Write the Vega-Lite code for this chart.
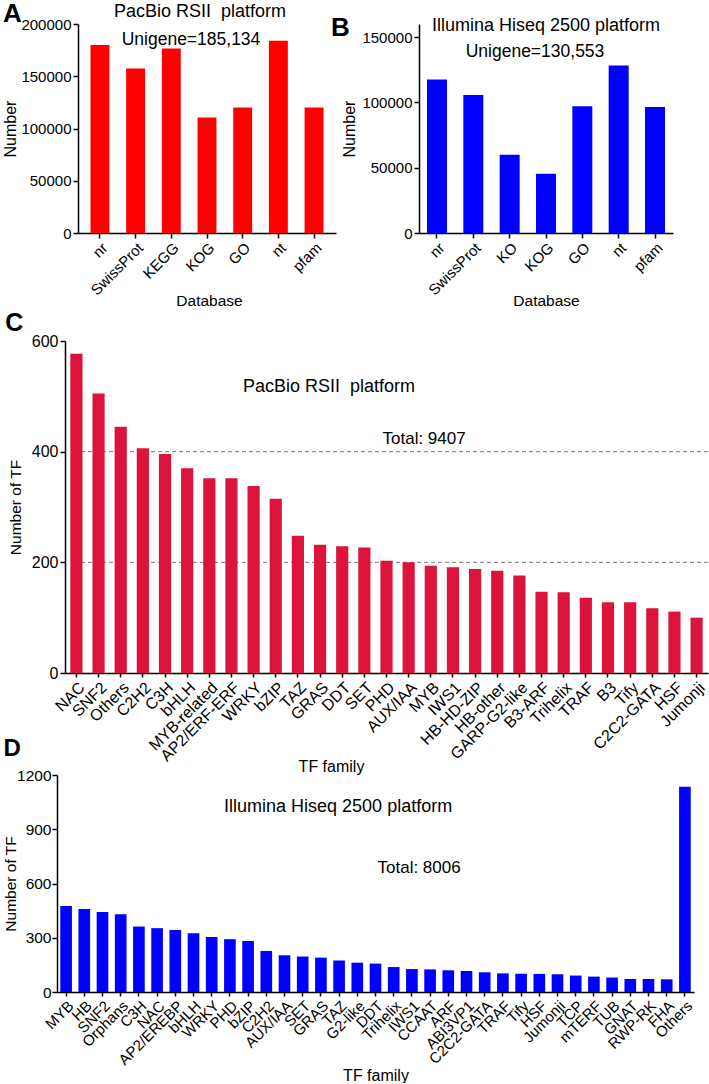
{
  "$schema": "https://vega.github.io/schema/vega-lite/v6.json",
  "background": "white",
  "padding": {"left": 2, "top": 0, "right": 0, "bottom": 0},
  "config": {
    "font": "Liberation Sans",
    "view": {"stroke": null},
    "axis": {
      "domainColor": "#000000", "domainWidth": 1.5,
      "tickColor": "#000000", "tickWidth": 1.5, "tickSize": 5,
      "labelColor": "#000000", "titleColor": "#000000",
      "titleFontWeight": "normal", "grid": false,
      "labelFont": "Liberation Sans", "titleFont": "Liberation Sans"
    },
    "text": {"color": "#000000", "font": "Liberation Sans"},
    "title": {"font": "Liberation Sans", "fontWeight": "bold", "color": "#000000", "anchor": "start", "frame": "bounds"}
  },
  "vconcat": [
    {
      "hconcat": [
        {
          "width": 258, "height": 209,
          "title": {"text": "A", "fontSize": 26, "offset": -24, "dx": 0},
          "layer": [
            {
              "data": {"values": [
                {"database": "nr", "number": 180000},
                {"database": "SwissProt", "number": 157500},
                {"database": "KEGG", "number": 176500},
                {"database": "KOG", "number": 110500},
                {"database": "GO", "number": 120000},
                {"database": "nt", "number": 184000},
                {"database": "pfam", "number": 120000}
              ]},
              "mark": {"type": "bar", "color": "#ff0000"},
              "encoding": {
                "x": {"field": "database", "type": "nominal", "sort": null,
                  "scale": {"paddingInner": 0.47, "paddingOuter": 0.35},
                  "axis": {"title": "Database", "labelAngle": -45, "labelFontSize": 15, "titleFontSize": 15.5, "labelPadding": 2, "titleX": 131, "titleY": 67, "titleBaseline": "middle", "titleAlign": "center"}},
                "y": {"field": "number", "type": "quantitative",
                  "scale": {"domain": [0, 200000]},
                  "axis": {"title": "Number", "values": [0, 50000, 100000, 150000, 200000], "format": "d", "labelFontSize": 15, "titleFontSize": 16, "labelPadding": 2, "titlePadding": 2}}
              }
            },
            {
              "data": {"values": [{"label": "PacBio RSII\u00a0 platform"}]},
              "mark": {"type": "text", "fontSize": 18, "align": "center", "baseline": "middle", "dx": -7},
              "encoding": {"x": {"datum": "KOG"}, "y": {"datum": 211500}, "text": {"field": "label"}}
            },
            {
              "data": {"values": [{"label": "Unigene=185,134"}]},
              "mark": {"type": "text", "fontSize": 17.5, "align": "center", "baseline": "middle", "dx": -16},
              "encoding": {"x": {"datum": "KOG"}, "y": {"datum": 184700}, "text": {"field": "label"}}
            }
          ]
        },
        {
          "width": 254, "height": 209,
          "title": {"text": "B", "fontSize": 26, "offset": -24, "dx": -11},
          "layer": [
            {
              "data": {"values": [
                {"database": "nr", "number": 117500},
                {"database": "SwissProt", "number": 105700},
                {"database": "KO", "number": 60000},
                {"database": "KOG", "number": 45400},
                {"database": "GO", "number": 97100},
                {"database": "nt", "number": 128200},
                {"database": "pfam", "number": 96400}
              ]},
              "mark": {"type": "bar", "color": "#0000ff"},
              "encoding": {
                "x": {"field": "database", "type": "nominal", "sort": null,
                  "scale": {"paddingInner": 0.45, "paddingOuter": 0.22},
                  "axis": {"title": "Database", "labelAngle": -45, "labelFontSize": 15, "titleFontSize": 15.5, "labelPadding": 2, "titleX": 127, "titleY": 67, "titleBaseline": "middle", "titleAlign": "center"}},
                "y": {"field": "number", "type": "quantitative",
                  "scale": {"domain": [0, 150000]},
                  "axis": {"title": "Number", "values": [0, 50000, 100000, 150000], "format": "d", "labelFontSize": 15, "titleFontSize": 16, "labelPadding": 2, "titlePadding": 4}}
              }
            },
            {
              "data": {"values": [{"label": "Illumina Hiseq 2500 platform"}]},
              "mark": {"type": "text", "fontSize": 18, "align": "center", "baseline": "middle"},
              "encoding": {"x": {"datum": "KOG"}, "y": {"datum": 158600}, "text": {"field": "label"}}
            },
            {
              "data": {"values": [{"label": "Unigene=130,553"}]},
              "mark": {"type": "text", "fontSize": 17.5, "align": "center", "baseline": "middle", "dx": -11},
              "encoding": {"x": {"datum": "KOG"}, "y": {"datum": 138500}, "text": {"field": "label"}}
            }
          ]
        }
      ],
      "spacing": -6
    },
    {
      "vconcat": [
        {
          "width": 630, "height": 332,
          "title": {"text": "C", "fontSize": 25, "offset": -3, "dx": -3},
          "layer": [
            {
              "data": {"values": [{"level": 200}, {"level": 400}]},
              "mark": {"type": "rule", "color": "#777777", "strokeDash": [4, 3], "strokeWidth": 1},
              "encoding": {"y": {"field": "level", "type": "quantitative"}}
            },
            {
              "data": {"values": [
                {"family": "NAC", "count": 577},
                {"family": "SNF2", "count": 505},
                {"family": "Others", "count": 445},
                {"family": "C2H2", "count": 406},
                {"family": "C3H", "count": 396},
                {"family": "bHLH", "count": 370},
                {"family": "MYB-related", "count": 352},
                {"family": "AP2/ERF-ERF", "count": 352},
                {"family": "WRKY", "count": 338},
                {"family": "bZIP", "count": 315},
                {"family": "TAZ", "count": 248},
                {"family": "GRAS", "count": 232},
                {"family": "DDT", "count": 229},
                {"family": "SET", "count": 227},
                {"family": "PHD", "count": 203},
                {"family": "AUX/IAA", "count": 200},
                {"family": "MYB", "count": 194},
                {"family": "IWS1", "count": 191},
                {"family": "HB-HD-ZIP", "count": 188},
                {"family": "HB-other", "count": 185},
                {"family": "GARP-G2-like", "count": 176},
                {"family": "B3-ARF", "count": 147},
                {"family": "Trihelix", "count": 146},
                {"family": "TRAF", "count": 136},
                {"family": "B3", "count": 128},
                {"family": "Tify", "count": 128},
                {"family": "C2C2-GATA", "count": 117},
                {"family": "HSF", "count": 111},
                {"family": "Jumonji", "count": 100}
              ]},
              "mark": {"type": "bar", "color": "#dc143c"},
              "encoding": {
                "x": {"field": "family", "type": "nominal", "sort": null,
                  "scale": {"range": [-13, 630], "paddingInner": 0.45, "paddingOuter": 0.24},
                  "axis": {"title": "TF family", "labelAngle": -45, "labelFontSize": 16, "titleFontSize": 16, "labelPadding": 2, "tickSize": 4, "titleX": 253, "titleY": 93, "titleBaseline": "middle", "titleAlign": "center"}},
                "y": {"field": "count", "type": "quantitative",
                  "scale": {"domain": [0, 600]},
                  "axis": {"title": "Number of TF", "offset": 13, "values": [0, 200, 400, 600], "labelFontSize": 16, "titleFontSize": 15.5, "labelPadding": 2, "titlePadding": 8}}
              }
            },
            {
              "data": {"values": [{"label": "PacBio RSII\u00a0 platform"}]},
              "mark": {"type": "text", "fontSize": 18, "align": "center", "baseline": "middle", "dx": 9},
              "encoding": {"x": {"datum": "GRAS"}, "y": {"datum": 516}, "text": {"field": "label"}}
            },
            {
              "data": {"values": [{"label": "Total: 9407"}]},
              "mark": {"type": "text", "fontSize": 17, "align": "left", "baseline": "middle", "dx": -4},
              "encoding": {"x": {"datum": "PHD"}, "y": {"datum": 422}, "text": {"field": "label"}}
            }
          ]
        },
        {
          "width": 616, "height": 217,
          "title": {"text": "D", "fontSize": 24, "offset": 7, "dx": 0},
          "layer": [
            {
              "data": {"values": [
                {"family": "MYB", "count": 476},
                {"family": "HB", "count": 459},
                {"family": "SNF2", "count": 443},
                {"family": "Orphans", "count": 430},
                {"family": "C3H", "count": 362},
                {"family": "NAC", "count": 353},
                {"family": "AP2/EREBP", "count": 343},
                {"family": "bHLH", "count": 325},
                {"family": "WRKY", "count": 304},
                {"family": "PHD", "count": 292},
                {"family": "bZIP", "count": 282},
                {"family": "C2H2", "count": 227},
                {"family": "AUX/IAA", "count": 203},
                {"family": "SET", "count": 196},
                {"family": "GRAS", "count": 190},
                {"family": "TAZ", "count": 174},
                {"family": "G2-like", "count": 162},
                {"family": "DDT", "count": 157},
                {"family": "Trihelix", "count": 138},
                {"family": "IWS1", "count": 127},
                {"family": "CCAAT", "count": 125},
                {"family": "ARF", "count": 120},
                {"family": "ABI3VP1", "count": 116},
                {"family": "C2C2-GATA", "count": 109},
                {"family": "TRAF", "count": 103},
                {"family": "Tify", "count": 101},
                {"family": "HSF", "count": 100},
                {"family": "Jumonji", "count": 98},
                {"family": "TCP", "count": 91},
                {"family": "mTERF", "count": 85},
                {"family": "TUB", "count": 80},
                {"family": "GNAT", "count": 72},
                {"family": "RWP-RK", "count": 72},
                {"family": "FHA", "count": 70},
                {"family": "Others", "count": 1135}
              ]},
              "mark": {"type": "bar", "color": "#0000ff"},
              "encoding": {
                "x": {"field": "family", "type": "nominal", "sort": null,
                  "scale": {"range": [-21, 616], "paddingInner": 0.36, "paddingOuter": 0.18},
                  "axis": {"title": "TF family", "labelAngle": -45, "labelFontSize": 15, "titleFontSize": 16, "labelPadding": 2, "tickSize": 4, "titleY": 83, "titleBaseline": "middle"}},
                "y": {"field": "count", "type": "quantitative",
                  "scale": {"domain": [0, 1200]},
                  "axis": {"title": "Number of TF", "offset": 21, "values": [0, 300, 600, 900, 1200], "format": "d", "labelFontSize": 15.5, "titleFontSize": 15.5, "labelPadding": 1, "titlePadding": -2}}
              }
            },
            {
              "data": {"values": [{"label": "Illumina Hiseq 2500 platform"}]},
              "mark": {"type": "text", "fontSize": 18, "align": "center", "baseline": "middle", "dx": -1},
              "encoding": {"x": {"datum": "TAZ"}, "y": {"datum": 1024}, "text": {"field": "label"}}
            },
            {
              "data": {"values": [{"label": "Total: 8006"}]},
              "mark": {"type": "text", "fontSize": 17, "align": "left", "baseline": "middle", "dx": 2},
              "encoding": {"x": {"datum": "DDT"}, "y": {"datum": 685}, "text": {"field": "label"}}
            }
          ]
        }
      ],
      "spacing": -37
    }
  ],
  "spacing": 2
}
